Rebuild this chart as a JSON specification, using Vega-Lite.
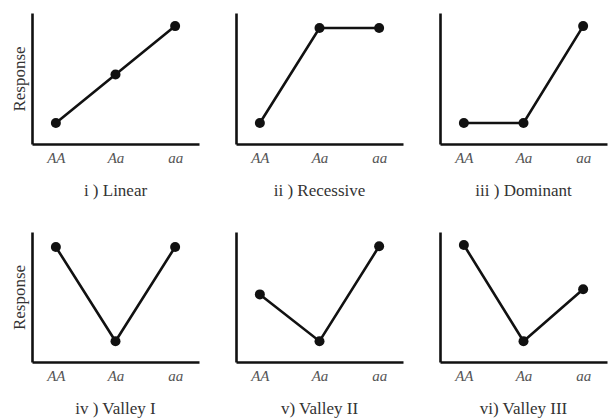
{
  "$schema": "https://vega.github.io/schema/vega-lite/v6.json",
  "padding": {"left": 10, "top": 13, "right": 5, "bottom": 5},
  "background": "white",
  "data": {"values": [
    {"panel": "i", "genotype": "AA", "response": 1.6},
    {"panel": "i", "genotype": "Aa", "response": 5.3},
    {"panel": "i", "genotype": "aa", "response": 9.0},
    {"panel": "ii", "genotype": "AA", "response": 1.6},
    {"panel": "ii", "genotype": "Aa", "response": 8.85},
    {"panel": "ii", "genotype": "aa", "response": 8.85},
    {"panel": "iii", "genotype": "AA", "response": 1.6},
    {"panel": "iii", "genotype": "Aa", "response": 1.6},
    {"panel": "iii", "genotype": "aa", "response": 9.0},
    {"panel": "iv", "genotype": "AA", "response": 8.85},
    {"panel": "iv", "genotype": "Aa", "response": 1.6},
    {"panel": "iv", "genotype": "aa", "response": 8.85},
    {"panel": "v", "genotype": "AA", "response": 5.2},
    {"panel": "v", "genotype": "Aa", "response": 1.6},
    {"panel": "v", "genotype": "aa", "response": 8.9},
    {"panel": "vi", "genotype": "AA", "response": 9.0},
    {"panel": "vi", "genotype": "Aa", "response": 1.6},
    {"panel": "vi", "genotype": "aa", "response": 5.6}
  ]},
  "vconcat": [
    {
      "spacing": 37,
      "hconcat": [
        {"width": 167, "height": 131, "title": {"text": "i ) Linear", "font": "Liberation Serif"},
         "transform": [{"filter": "datum.panel === 'i'"}],
         "mark": {"type": "line", "color": "#111", "strokeWidth": 2.6, "point": {"filled": true, "size": 100, "color": "#111", "opacity": 1}},
         "encoding": {
           "x": {"field": "genotype", "type": "ordinal", "sort": ["AA", "Aa", "aa"], "scale": {"type": "point", "padding": 0.4}, "axis": {"title": null, "labelFontSize": 15, "labelFontStyle": "italic", "labelColor": "#555", "labelAngle": 0, "labelPadding": 6, "labelFont": "Liberation Serif"}},
           "y": {"field": "response", "type": "quantitative", "scale": {"domain": [0, 10]}, "axis": {"title": "Response"}}
         }},
        {"width": 167, "height": 131, "title": {"text": "ii ) Recessive", "font": "Liberation Serif"},
         "transform": [{"filter": "datum.panel === 'ii'"}],
         "mark": {"type": "line", "color": "#111", "strokeWidth": 2.6, "point": {"filled": true, "size": 100, "color": "#111", "opacity": 1}},
         "encoding": {
           "x": {"field": "genotype", "type": "ordinal", "sort": ["AA", "Aa", "aa"], "scale": {"type": "point", "padding": 0.4}, "axis": {"title": null, "labelFontSize": 15, "labelFontStyle": "italic", "labelColor": "#555", "labelAngle": 0, "labelPadding": 6, "labelFont": "Liberation Serif"}},
           "y": {"field": "response", "type": "quantitative", "scale": {"domain": [0, 10]}, "axis": {"title": null}}
         }},
        {"width": 167, "height": 131, "title": {"text": "iii ) Dominant", "font": "Liberation Serif"},
         "transform": [{"filter": "datum.panel === 'iii'"}],
         "mark": {"type": "line", "color": "#111", "strokeWidth": 2.6, "point": {"filled": true, "size": 100, "color": "#111", "opacity": 1}},
         "encoding": {
           "x": {"field": "genotype", "type": "ordinal", "sort": ["AA", "Aa", "aa"], "scale": {"type": "point", "padding": 0.4}, "axis": {"title": null, "labelFontSize": 15, "labelFontStyle": "italic", "labelColor": "#555", "labelAngle": 0, "labelPadding": 6, "labelFont": "Liberation Serif"}},
           "y": {"field": "response", "type": "quantitative", "scale": {"domain": [0, 10]}, "axis": {"title": null}}
         }}
      ]
    },
    {
      "spacing": 37,
      "hconcat": [
        {"width": 167, "height": 130, "title": {"text": "iv ) Valley I", "font": "Liberation Serif"},
         "transform": [{"filter": "datum.panel === 'iv'"}],
         "mark": {"type": "line", "color": "#111", "strokeWidth": 2.6, "point": {"filled": true, "size": 100, "color": "#111", "opacity": 1}},
         "encoding": {
           "x": {"field": "genotype", "type": "ordinal", "sort": ["AA", "Aa", "aa"], "scale": {"type": "point", "padding": 0.4}, "axis": {"title": null, "labelFontSize": 15, "labelFontStyle": "italic", "labelColor": "#555", "labelAngle": 0, "labelPadding": 6, "labelFont": "Liberation Serif"}},
           "y": {"field": "response", "type": "quantitative", "scale": {"domain": [0, 10]}, "axis": {"title": "Response"}}
         }},
        {"width": 167, "height": 130, "title": {"text": "v) Valley II", "font": "Liberation Serif"},
         "transform": [{"filter": "datum.panel === 'v'"}],
         "mark": {"type": "line", "color": "#111", "strokeWidth": 2.6, "point": {"filled": true, "size": 100, "color": "#111", "opacity": 1}},
         "encoding": {
           "x": {"field": "genotype", "type": "ordinal", "sort": ["AA", "Aa", "aa"], "scale": {"type": "point", "padding": 0.4}, "axis": {"title": null, "labelFontSize": 15, "labelFontStyle": "italic", "labelColor": "#555", "labelAngle": 0, "labelPadding": 6, "labelFont": "Liberation Serif"}},
           "y": {"field": "response", "type": "quantitative", "scale": {"domain": [0, 10]}, "axis": {"title": null}}
         }},
        {"width": 167, "height": 130, "title": {"text": "vi) Valley III", "font": "Liberation Serif"},
         "transform": [{"filter": "datum.panel === 'vi'"}],
         "mark": {"type": "line", "color": "#111", "strokeWidth": 2.6, "point": {"filled": true, "size": 100, "color": "#111", "opacity": 1}},
         "encoding": {
           "x": {"field": "genotype", "type": "ordinal", "sort": ["AA", "Aa", "aa"], "scale": {"type": "point", "padding": 0.4}, "axis": {"title": null, "labelFontSize": 15, "labelFontStyle": "italic", "labelColor": "#555", "labelAngle": 0, "labelPadding": 6, "labelFont": "Liberation Serif"}},
           "y": {"field": "response", "type": "quantitative", "scale": {"domain": [0, 10]}, "axis": {"title": null}}
         }}
      ]
    }
  ],
  "spacing": 33,
  "config": {
    "view": {"stroke": null},
    "axis": {"domainColor": "#111", "domainWidth": 2.6, "ticks": false, "grid": false, "labelFont": "Liberation Serif", "titleFont": "Liberation Serif"},
    "axisY": {"labels": false, "titleFontWeight": "normal", "titleFontSize": 17, "titleColor": "#333", "titlePadding": 4},
    "title": {"font": "Liberation Serif", "fontSize": 17, "fontWeight": "normal", "color": "#333", "orient": "bottom", "offset": 18, "frame": "group", "anchor": "middle"}
  }
}
